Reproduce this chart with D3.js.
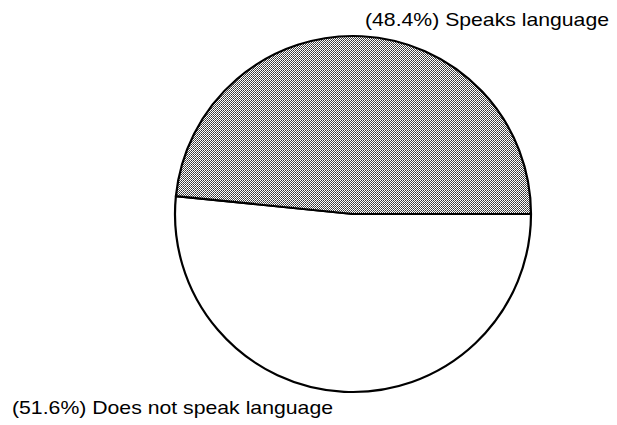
<!DOCTYPE html>
<html>
<head>
<meta charset="utf-8">
<script src="https://cdn.jsdelivr.net/npm/d3@7"></script>
<style>
  html, body { margin: 0; padding: 0; background: #fff; }
  svg { display: block; }
  text { font-family: "Liberation Sans", Arial, sans-serif; fill: #000; }
</style>
</head>
<body>
<svg id="chart" width="617" height="425"></svg>
<script>
// Data
const categories = ["Does not speak language", "Speaks language"];
const percentages = [51.6, 48.4];
const labelTexts = ["(51.6%) Does not speak language", "(48.4%) Speaks language"];

const svg = d3.select("#chart");
const cx = 353, cy = 214, radius = 178;

// dither-like pattern for the shaded slice
const defs = svg.append("defs");
const pat = defs.append("pattern")
  .attr("id", "dots")
  .attr("patternUnits", "userSpaceOnUse")
  .attr("width", 2).attr("height", 2);
pat.append("rect").attr("width", 2).attr("height", 2).attr("fill", "#ffffff");
pat.append("rect").attr("x", 0).attr("y", 0).attr("width", 1).attr("height", 1).attr("fill", "#333");
pat.append("rect").attr("x", 1).attr("y", 1).attr("width", 1).attr("height", 1).attr("fill", "#555");

const fills = ["#ffffff", "url(#dots)"];

const pie = d3.pie()
  .sort(null)
  .value(d => d)
  .startAngle(Math.PI / 2)
  .endAngle(Math.PI / 2 + 2 * Math.PI);

const arc = d3.arc().innerRadius(0).outerRadius(radius);

const g = svg.append("g").attr("transform", `translate(${cx},${cy})`);

g.selectAll("path")
  .data(pie(percentages))
  .join("path")
  .attr("d", arc)
  .attr("fill", (d, i) => fills[i])
  .attr("stroke", "#000")
  .attr("stroke-width", 2.2)
  .attr("stroke-linejoin", "round");

// Labels
svg.append("text")
  .attr("x", 365).attr("y", 26)
  .attr("font-size", 19)
  .attr("textLength", 244)
  .attr("lengthAdjust", "spacingAndGlyphs")
  .text(labelTexts[1]);

svg.append("text")
  .attr("x", 12).attr("y", 414)
  .attr("font-size", 19)
  .attr("textLength", 321)
  .attr("lengthAdjust", "spacingAndGlyphs")
  .text(labelTexts[0]);
</script>
</body>
</html>
